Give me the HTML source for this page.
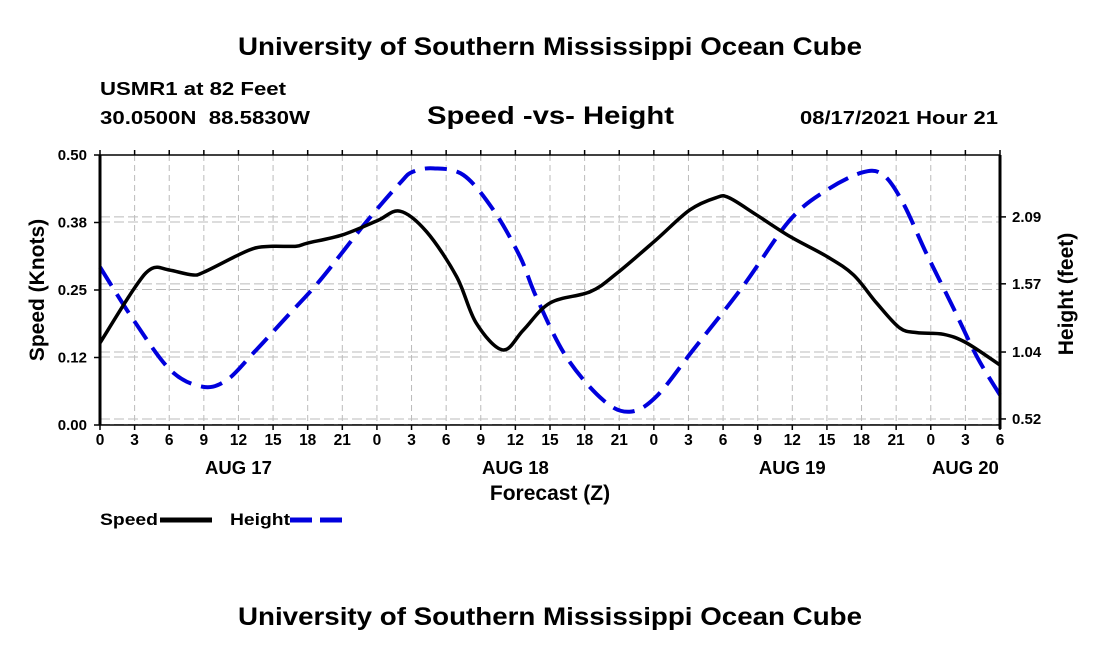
<!DOCTYPE html>
<html><head><meta charset="utf-8"><style>
body{margin:0;background:#fff;}
svg text{font-family:"Liberation Sans",Arial,sans-serif;font-weight:bold;fill:#000;}
</style></head><body>
<svg id="chart" width="1100" height="650" viewBox="0 0 1100 650" xmlns="http://www.w3.org/2000/svg">
<rect width="1100" height="650" fill="#fff"/>
<text x="238" y="55" font-size="25" textLength="624" lengthAdjust="spacingAndGlyphs">University of Southern Mississippi Ocean Cube</text>
<text x="100" y="95" font-size="18" textLength="186" lengthAdjust="spacingAndGlyphs">USMR1 at 82 Feet</text>
<text x="100" y="124" font-size="18" textLength="210" lengthAdjust="spacingAndGlyphs">30.0500N&#160;&#160;88.5830W</text>
<text x="427" y="124" font-size="25" textLength="247" lengthAdjust="spacingAndGlyphs">Speed -vs- Height</text>
<text x="800" y="124" font-size="18" textLength="198" lengthAdjust="spacingAndGlyphs">08/17/2021 Hour 21</text>
<g id="grid"></g>
<g id="series"></g>
<g id="axes"></g>
<text transform="translate(44,290) rotate(-90)" font-size="21" text-anchor="middle">Speed (Knots)</text>
<text transform="translate(1073,294) rotate(-90)" font-size="21" text-anchor="middle">Height (feet)</text>
<text x="550" y="500" font-size="21" text-anchor="middle">Forecast (Z)</text>
<g>
<text x="100" y="525" font-size="17" textLength="58" lengthAdjust="spacingAndGlyphs">Speed</text>
<line x1="160" y1="520" x2="212" y2="520" stroke="#000" stroke-width="5"/>
</g>
<g>
<text x="230" y="525" font-size="17" textLength="60" lengthAdjust="spacingAndGlyphs">Height</text>
<line x1="290" y1="520" x2="342" y2="520" stroke="#0000dd" stroke-width="5" stroke-dasharray="22,8"/>
</g>
<text x="238" y="625" font-size="25" textLength="624" lengthAdjust="spacingAndGlyphs">University of Southern Mississippi Ocean Cube</text>
</svg>
<script>
const speedHours=[0,3,4.5,6,8,9,12,13.5,15,17,18,21,24,26,28.3,30.9,32.6,34.9,36.7,39,42.5,44.8,48.2,51.1,53.4,54.5,56.9,59.8,63,65.3,67.3,69.3,70.8,73.1,75.1,78];
const speedValues=[0.152,0.254,0.29,0.287,0.278,0.283,0.315,0.328,0.331,0.331,0.337,0.352,0.378,0.396,0.358,0.275,0.189,0.139,0.176,0.226,0.247,0.281,0.343,0.398,0.421,0.421,0.389,0.349,0.312,0.278,0.226,0.18,0.171,0.168,0.152,0.111];
const heightHours=[0,2.9,6.1,8.9,11,13.3,16.2,19.1,23.1,26,27.1,28.9,31.5,34.1,36.4,37.8,40.4,43.6,45.9,48.2,51.4,55.7,59.8,63,66.1,67.9,69.6,71.6,73.9,76,78];
const heightValues=[1.70,1.29,0.90,0.77,0.823,1.033,1.315,1.60,2.053,2.353,2.44,2.467,2.415,2.143,1.781,1.47,1.004,0.667,0.576,0.693,1.056,1.548,2.066,2.299,2.436,2.415,2.198,1.81,1.393,1.004,0.706];
const speedTicks=[0,0.125,0.25,0.375,0.5];
const speedTickLabels=["0.00","0.12","0.25","0.38","0.50"];
const heightTicks=[0.52,1.04,1.57,2.09];
const heightTickLabels=["0.52","1.04","1.57","2.09"];
const hourTickLabels=["0","3","6","9","12","15","18","21","0","3","6","9","12","15","18","21","0","3","6","9","12","15","18","21","0","3","6"];
const dayLabels=["AUG 17","AUG 18","AUG 19","AUG 20"];
const dayLabelHours=[12,36,60,75];

const L=100,R=1000,T=155,B=425;
const xS=h=>L+h*(R-L)/78;
const yS=v=>B-v*(B-T)/0.5;
const yH=v=>B-(v-0.473)*128.7;
const NS="http://www.w3.org/2000/svg";
function mk(tag,attrs,parent){const e=document.createElementNS(NS,tag);for(const k in attrs)e.setAttribute(k,attrs[k]);parent.appendChild(e);return e;}
const grid=document.getElementById('grid'),axes=document.getElementById('axes'),series=document.getElementById('series');
hourTickLabels.forEach((t,i)=>{const x=xS(i*3);
 if(i>0&&i<26){const g=mk('line',{x1:x,y1:T,x2:x,y2:B,stroke:'#bbb','stroke-width':1,'stroke-dasharray':'6,4'},grid);
 
 }
 mk('line',{x1:x,y1:B,x2:x,y2:B+5,stroke:'#000','stroke-width':1.5},axes);
 mk('line',{x1:x,y1:T,x2:x,y2:T-5,stroke:'#000','stroke-width':1.5},axes);
 const tx=mk('text',{x:x,y:B+20,'font-size':15.5,'text-anchor':'middle'},axes);tx.textContent=t;
 
 
});
dayLabels.forEach((d,i)=>{const tx=mk('text',{x:xS(dayLabelHours[i]),y:B+49,'font-size':18.5,'text-anchor':'middle'},axes);tx.textContent=d;
 
 });
speedTicks.forEach((v,i)=>{const y=yS(v);
 if(i<4){const g=mk('line',{x1:L,y1:y-0.5,x2:R,y2:y-0.5,stroke:'#bbb','stroke-width':1,'stroke-dasharray':'10,4'},grid);
 
 }
 mk('line',{x1:L-6,y1:y,x2:L,y2:y,stroke:'#000','stroke-width':1.5},axes);
 const tx=mk('text',{x:L-13,y:y+5,'font-size':15,'text-anchor':'end'},axes);tx.textContent=speedTickLabels[i];
 
 });
heightTicks.forEach((v,i)=>{const y=yH(v);
 const g=mk('line',{x1:L,y1:y,x2:R,y2:y,stroke:'#bbb','stroke-width':1,'stroke-dasharray':'10,4'},grid);
 
 
 mk('line',{x1:R,y1:y,x2:R+6,y2:y,stroke:'#000','stroke-width':1.5},axes);
 const tx=mk('text',{x:R+12,y:y+5,'font-size':15},axes);tx.textContent=heightTickLabels[i];
 
 });
mk('line',{x1:L,y1:T,x2:R,y2:T,stroke:'#000','stroke-width':1.5},axes);
mk('line',{x1:L,y1:B,x2:R,y2:B,stroke:'#000','stroke-width':1.5},axes);
mk('line',{x1:L,y1:T,x2:L,y2:B,stroke:'#000','stroke-width':3},axes);
mk('line',{x1:R,y1:T,x2:R,y2:B+4,stroke:'#000','stroke-width':3},axes);
function path(xs,ys){const p=xs.map((x,i)=>[x,ys[i]]);let d='M'+p[0][0]+','+p[0][1];
 for(let i=0;i<p.length-1;i++){const p0=p[Math.max(0,i-1)],p1=p[i],p2=p[i+1],p3=p[Math.min(p.length-1,i+2)];
 const c1=[p1[0]+(p2[0]-p0[0])/6,p1[1]+(p2[1]-p0[1])/6],c2=[p2[0]-(p3[0]-p1[0])/6,p2[1]-(p3[1]-p1[1])/6];
 d+=`C${c1[0]},${c1[1]} ${c2[0]},${c2[1]} ${p2[0]},${p2[1]}`;}return d;}
const hp=mk('path',{d:path(heightHours.map(xS),heightValues.map(yH)),fill:'none',stroke:'#0000dd','stroke-width':4,'stroke-dasharray':'22,10'},series);


const sp=mk('path',{d:path(speedHours.map(xS),speedValues.map(yS)),fill:'none',stroke:'#000','stroke-width':3.5},series);


</script>
</body></html>
